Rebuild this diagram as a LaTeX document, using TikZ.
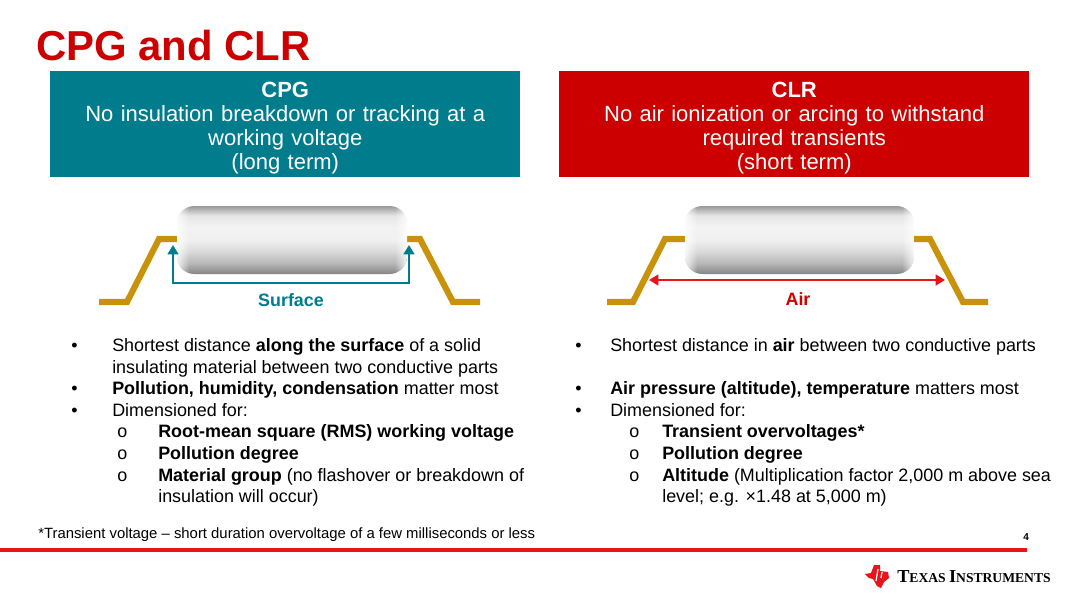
\documentclass[tikz,border=0pt]{standalone}
\usepackage{fontspec}
\setmainfont{Liberation Sans}
\newfontfamily\logofont{Liberation Serif}
\usetikzlibrary{arrows.meta,fadings}
\definecolor{tiTeal}{HTML}{007C8C}
\definecolor{tiRed}{HTML}{CC0000}
\definecolor{lineRed}{HTML}{E8141C}
\definecolor{leadGold}{HTML}{C8920A}
\pgfdeclareverticalshading{bodyshade}{100bp}{
  color(0bp)=(black!48); color(25bp)=(black!48); color(33bp)=(black!28); color(42bp)=(black!14);
  color(50bp)=(black!6); color(60bp)=(black!5); color(68bp)=(black!10); color(75bp)=(black!40); color(100bp)=(black!40)}
\newcommand{\bigsm}[2]{{\fontsize{13.7}{14}\selectfont #1}{\fontsize{10.2}{14}\selectfont #2}}
\newcommand{\pkgbody}[2]{%
    \begin{scope}
        \clip[rounded corners=13pt] (#1,206) rectangle (#2,274);
        \shade[shading=bodyshade] (#1,206) rectangle (#2,274);
        \fill[white, fill opacity=0.8, path fading=east] (#1,206) rectangle ++(12,68);
        \fill[white, fill opacity=0.8, path fading=west] (#2,206) rectangle ++(-12,68);
    \end{scope}}
\begin{document}
\begin{tikzpicture}[
    x=0.75pt, y=-0.75pt,
    headbox/.style={text=white, align=center, text width=352.5pt, minimum height=79.5pt, inner sep=0pt,
        font=\fontsize{16.5}{18}\selectfont},
    bodytext/.style={anchor=base west, inner sep=0pt, font=\fontsize{13.45}{15}\selectfont},
    lead/.style={draw=leadGold, line width=4.6pt, miter limit=10},
    surfacearrow/.style={draw=tiTeal, line width=2.2pt, {Triangle[length=7pt,width=8pt]}-{Triangle[length=7pt,width=8pt]}},
    airarrow/.style={draw=lineRed, line width=2.2pt, {Triangle[length=7pt,width=8pt]}-{Triangle[length=7pt,width=8pt]}},
    tag/.style={font=\fontsize{13.4}{15}\selectfont\bfseries, inner sep=0pt}
]
    \useasboundingbox (0,0) rectangle (1080,608);
    \fill[white] (0,0) rectangle (1080,608);

    % Title
    \node[anchor=base west, inner sep=0pt, text=tiRed, font=\fontsize{31.4}{33}\selectfont\bfseries] (title) at (36,60) {CPG and CLR};

    % Header boxes
    \node[headbox, fill=tiTeal, anchor=north west] (cpgbox) at (50,71) {\rule{0pt}{17.5pt}\textbf{CPG}\\No insulation breakdown or tracking at a\\working voltage\\(long term)};
    \node[headbox, fill=tiRed, anchor=north west] (clrbox) at (559,71) {\rule{0pt}{17.5pt}\textbf{CLR}\\No air ionization or arcing to withstand\\required transients\\(short term)};

    % Left package
    \draw[lead] (99,302) -- (127,302) -- (159,239) -- (180,239);
    \draw[lead] (404,239) -- (420,239) -- (453,302) -- (480,302);
    \pkgbody{177}{407}
    \coordinate (surfL) at (173,245);
    \coordinate (surfLb) at (173,283);
    \coordinate (surfRb) at (409,283);
    \coordinate (surfR) at (409,245);
    \draw[surfacearrow] (surfL) -- (surfLb) -- (surfRb) -- (surfR);
    \node[tag, text=tiTeal] (surface) at (291,300) {Surface};

    % Right package
    \draw[lead] (607,302) -- (633,302) -- (665,239) -- (688,239);
    \draw[lead] (911,239) -- (930,239) -- (963,302) -- (988,302);
    \pkgbody{685}{914}
    \coordinate (airL) at (649,280);
    \coordinate (airR) at (945,280);
    \draw[airarrow] (airL) -- (airR);
    \node[tag, text=tiRed] (air) at (798,299) {Air};

    % Left text
    \node[bodytext] (lb1) at (71,351) {•};
    \node[bodytext] (lt1) at (112,351) {Shortest distance \textbf{along the surface} of a solid};
    \node[bodytext] (lt2) at (112,373) {insulating material between two conductive parts};
    \node[bodytext] (lb2) at (71,394) {•};
    \node[bodytext] (lt3) at (112,394) {\textbf{Pollution, humidity, condensation} matter most};
    \node[bodytext] (lb3) at (71,416) {•};
    \node[bodytext] (lt4) at (112,416) {Dimensioned for:};
    \node[bodytext] (lo1) at (117,437) {o};
    \node[bodytext] (lt5) at (158,437) {\textbf{Root-mean square (RMS) working voltage}};
    \node[bodytext] (lo2) at (117,459) {o};
    \node[bodytext] (lt6) at (158,459) {\textbf{Pollution degree}};
    \node[bodytext] (lo3) at (117,481) {o};
    \node[bodytext] (lt7) at (158,481) {\textbf{Material group} (no flashover or breakdown of};
    \node[bodytext] (lt8) at (158,502) {insulation will occur)};

    % Right text
    \node[bodytext] (rb1) at (575,351) {•};
    \node[bodytext] (rt1) at (610,351) {Shortest distance in \textbf{air} between two conductive parts};
    \node[bodytext] (rb2) at (575,394) {•};
    \node[bodytext] (rt2) at (610,394) {\textbf{Air pressure (altitude), temperature} matters most};
    \node[bodytext] (rb3) at (575,416) {•};
    \node[bodytext] (rt3) at (610,416) {Dimensioned for:};
    \node[bodytext] (ro1) at (629,437) {o};
    \node[bodytext] (rt4) at (662,437) {\textbf{Transient overvoltages*}};
    \node[bodytext] (ro2) at (629,459) {o};
    \node[bodytext] (rt5) at (662,459) {\textbf{Pollution degree}};
    \node[bodytext] (ro3) at (629,481) {o};
    \node[bodytext] (rt6) at (662,481) {\textbf{Altitude} (Multiplication factor 2,000 m above sea};
    \node[bodytext] (rt7) at (662,502) {level; e.g. ×1.48 at 5,000 m)};

    % Footer
    \node[bodytext, font=\fontsize{11.15}{13}\selectfont] (footnote) at (38,538) {*Transient voltage – short duration overvoltage of a few milliseconds or less};
    \node[bodytext, font=\fontsize{7.5}{9}\selectfont\bfseries] (pagenum) at (1023,540) {4};
    \draw[lineRed, line width=2.4pt] (0,550) -- (1027,550);

    % Logo
    \fill[lineRed] (874,565) -- (880,565) -- (880,571) -- (888,572) -- (889,578) -- (884,582) -- (881,588) -- (877,586) -- (873,579) -- (869,578) -- (865,574) -- (871,573) -- cycle;
    \draw[white, line width=0.9pt] (878,569) -- (876,581) (882,572) -- (881,578);
    \node[anchor=base west, inner sep=0pt, font=\logofont\bfseries] (logotext) at (897,582) {\bigsm{T}{EXAS} \bigsm{I}{NSTRUMENTS}};
\end{tikzpicture}
\end{document}
